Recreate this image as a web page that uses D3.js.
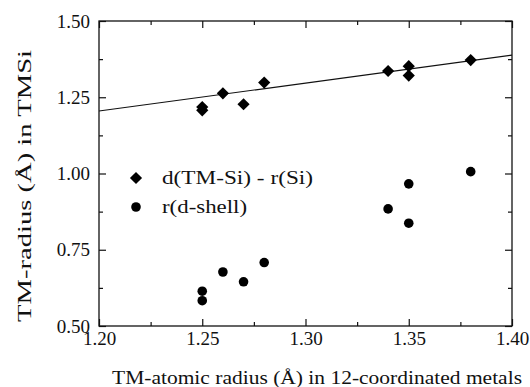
<!DOCTYPE html>
<html><head><meta charset="utf-8">
<script src="https://cdn.jsdelivr.net/npm/d3@7"></script>
<style>body{margin:0;background:#fff}svg{display:block}text{font-family:"Liberation Serif","Times New Roman",serif;fill:#111}</style>
</head><body><svg id="c" width="530" height="387"></svg>
<script>
// Data
const diamondX = [1.25, 1.25, 1.26, 1.27, 1.28, 1.34, 1.35, 1.35, 1.38];
const diamondY = [1.218, 1.207, 1.263, 1.227, 1.298, 1.336, 1.352, 1.321, 1.372];
const circleX = [1.25, 1.25, 1.26, 1.27, 1.28, 1.34, 1.35, 1.35, 1.38];
const circleY = [0.614, 0.583, 0.677, 0.645, 0.708, 0.884, 0.837, 0.966, 1.006];
const fitX = [1.20, 1.40];
const fitY = [1.205, 1.388];
const xTicks = [1.20, 1.25, 1.30, 1.35, 1.40];
const yTicks = [0.50, 0.75, 1.00, 1.25, 1.50];
const xMinor = [1.225, 1.275, 1.325, 1.375];
const yMinor = [0.625, 0.875, 1.125, 1.375];
const legendLabels = ["d(TM-Si) - r(Si)", "r(d-shell)"];

const svg = d3.select("#c");
const L = 99, R = 512, T = 21, B = 326;
const x = d3.scaleLinear().domain([1.20, 1.40]).range([L, R]);
const y = d3.scaleLinear().domain([0.50, 1.50]).range([B, T]);

// frame
svg.append("rect").attr("x", L).attr("y", T).attr("width", R - L).attr("height", B - T)
  .attr("fill", "none").attr("stroke", "#111").attr("stroke-width", 1.3);

// axes with inward ticks
const fmt = d3.format(".2f");
const g = svg.append("g");
g.append("g").attr("transform", `translate(0,${B})`)
  .call(d3.axisBottom(x).tickValues(xTicks).tickFormat(fmt).tickSize(-7).tickPadding(6))
  .call(s => s.select(".domain").remove());
g.append("g").attr("transform", `translate(0,${B})`)
  .call(d3.axisBottom(x).tickValues(xMinor).tickFormat("").tickSize(-4))
  .call(s => s.select(".domain").remove());
g.append("g").attr("transform", `translate(0,${T})`)
  .call(d3.axisTop(x).tickValues(xTicks).tickFormat("").tickSize(-7))
  .call(s => s.select(".domain").remove());
g.append("g").attr("transform", `translate(0,${T})`)
  .call(d3.axisTop(x).tickValues(xMinor).tickFormat("").tickSize(-4))
  .call(s => s.select(".domain").remove());
g.append("g").attr("transform", `translate(${L},0)`)
  .call(d3.axisLeft(y).tickValues(yTicks).tickFormat(fmt).tickSize(-7).tickPadding(9))
  .call(s => s.select(".domain").remove());
g.append("g").attr("transform", `translate(${L},0)`)
  .call(d3.axisLeft(y).tickValues(yMinor).tickFormat("").tickSize(-4))
  .call(s => s.select(".domain").remove());
g.append("g").attr("transform", `translate(${R},0)`)
  .call(d3.axisRight(y).tickValues(yTicks).tickFormat("").tickSize(-7))
  .call(s => s.select(".domain").remove());
g.append("g").attr("transform", `translate(${R},0)`)
  .call(d3.axisRight(y).tickValues(yMinor).tickFormat("").tickSize(-4))
  .call(s => s.select(".domain").remove());
g.selectAll(".tick line").attr("stroke", "#111").attr("stroke-width", 1.2);
g.selectAll(".tick text").attr("font-size", 19).attr("font-family", "Liberation Serif, serif").attr("fill", "#111");

// fit line
svg.append("path").datum(fitX.map((v, i) => [v, fitY[i]]))
  .attr("d", d3.line().x(d => x(d[0])).y(d => y(d[1])))
  .attr("stroke", "#111").attr("stroke-width", 1.2).attr("fill", "none");

const diamond = d3.symbol().type(d3.symbolDiamond2).size(95);
svg.append("g").selectAll("path").data(diamondX.map((v, i) => [v, diamondY[i]])).join("path")
  .attr("d", diamond).attr("transform", d => `translate(${x(d[0])},${y(d[1])})`).attr("fill", "#000");
svg.append("g").selectAll("circle").data(circleX.map((v, i) => [v, circleY[i]])).join("circle")
  .attr("cx", d => x(d[0])).attr("cy", d => y(d[1])).attr("r", 4.8).attr("fill", "#000");

// legend
svg.append("path").attr("d", diamond).attr("transform", "translate(136,178)").attr("fill", "#000");
svg.append("circle").attr("cx", 136).attr("cy", 207).attr("r", 4.8).attr("fill", "#000");
svg.append("text").attr("x", 162).attr("y", 184).attr("font-size", 19)
  .attr("textLength", 151).attr("lengthAdjust", "spacingAndGlyphs").text(legendLabels[0]);
svg.append("text").attr("x", 162).attr("y", 213).attr("font-size", 19)
  .attr("textLength", 85).attr("lengthAdjust", "spacingAndGlyphs").text(legendLabels[1]);

// axis titles
svg.append("text").attr("x", 112).attr("y", 384).attr("font-size", 19)
  .attr("textLength", 410).attr("lengthAdjust", "spacingAndGlyphs")
  .text("TM-atomic radius (Å) in 12-coordinated metals");
svg.append("text").attr("transform", "translate(31,322) rotate(-90)").attr("font-size", 19)
  .attr("textLength", 272).attr("lengthAdjust", "spacingAndGlyphs")
  .text("TM-radius (Å) in TMSi");
</script></body></html>
